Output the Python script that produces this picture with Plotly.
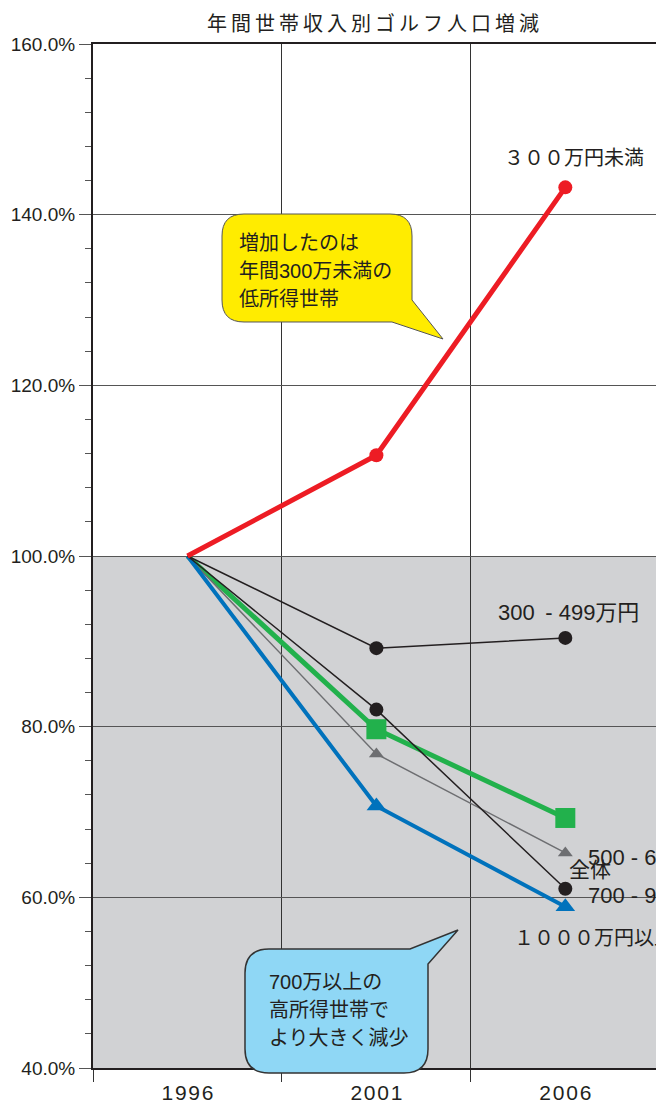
import plotly.graph_objects as go

# Survey years and index values (1996 = 100%)
years = ["1996", "2001", "2006"]
under_300 = [100.0, 111.8, 143.2]
band_300_499 = [100.0, 89.2, 90.4]
band_500_699 = [100.0, 76.8, 65.2]
band_700_999 = [100.0, 82.0, 61.0]
over_1000 = [100.0, 70.7, 58.9]
overall = [100.0, 79.7, 69.3]

series_names = ["３００万円未満", "300 - 499万円", "500 - 699万円",
                "700 - 999万円", "１０００万円以上", "全体"]
title_text = "年間世帯収入別ゴルフ人口増減"
y_range = [40, 160]
shade_range = [40, 100]

W, H = 656, 1106
ML, MR, MT, MB = 93, 0, 44, 38
PW, PH = W - ML - MR, H - MT - MB

FONT = "Liberation Sans, Noto Sans CJK JP, sans-serif"
TXT = "#231f20"
THIN = "\u2009"
HAIR = "\u200a"


def spaced(text, sep=THIN):
    """Open up the tracking of a label with narrow spaces."""
    return sep.join(text)


def px(x):
    return (x - ML) / PW


def py(y):
    return (H - MB - y) / PH


def path(points):
    """Build an SVG path in paper units from pixel-space commands."""
    out = []
    for cmd, *pts in points:
        coords = [f"{px(x):.5f},{py(y):.5f}" for (x, y) in pts]
        out.append(cmd + " ".join(coords))
    return " ".join(out) + " Z"


fig = go.Figure()

# grey band below the 100% baseline
fig.add_shape(type="rect", xref="x", yref="y", x0=-0.5, x1=2.6,
              y0=shade_range[0], y1=shade_range[1],
              fillcolor="#d1d2d4", line_width=0, layer="below")


def line_trace(values, color, width, symbol, size):
    return go.Scatter(
        x=years, y=values, mode="lines+markers", opacity=1,
        line=dict(color=color, width=width),
        marker=dict(symbol=symbol, size=[0, size, size], color=color,
                    opacity=1, line=dict(width=0)),
        hoverinfo="skip", showlegend=False, cliponaxis=False)


fig.add_trace(line_trace(overall, "#22b14c", 5, "square", 20))
fig.add_trace(line_trace(band_500_699, "#6d6e71", 1.5, "triangle-up", 13))
fig.add_trace(line_trace(over_1000, "#0072bc", 4, "triangle-up", 17))
fig.add_trace(line_trace(band_300_499, TXT, 1.5, "circle", 14))
fig.add_trace(line_trace(band_700_999, TXT, 1.5, "circle", 14))
fig.add_trace(line_trace(under_300, "#ed1c24", 5, "circle", 14))

# speech bubbles
yellow = [("M", (244, 214)), ("L", (390, 214)), ("Q", (412, 214), (412, 236)),
          ("L", (412, 300)), ("L", (443, 339)), ("L", (392, 322)),
          ("L", (244, 322)), ("Q", (222, 322), (222, 300)),
          ("L", (222, 236)), ("Q", (222, 214), (244, 214))]
fig.add_shape(type="path", xref="paper", yref="paper", path=path(yellow),
              fillcolor="#ffec00", line=dict(color="#555555", width=1),
              layer="above")

blue = [("M", (269, 949)), ("L", (410, 949)), ("L", (458, 930)),
        ("L", (428, 964)), ("L", (428, 1049)), ("Q", (428, 1073), (404, 1073)),
        ("L", (269, 1073)), ("Q", (245, 1073), (245, 1049)),
        ("L", (245, 973)), ("Q", (245, 949), (269, 949))]
fig.add_shape(type="path", xref="paper", yref="paper", path=path(blue),
              fillcolor="#8fd7f5", line=dict(color="#333333", width=1.5),
              layer="above")


def note(text, x, y, size=20, anchor="left"):
    fig.add_annotation(text=text, xref="paper", yref="paper",
                       x=px(x), y=py(y), xanchor=anchor, yanchor="middle",
                       showarrow=False,
                       font=dict(family=FONT, size=size, color=TXT))


for i, line in enumerate(["増加したのは", "年間300万未満の", "低所得世帯"]):
    note(line, 237, 243 + 28 * i)
for i, line in enumerate(["700万以上の", "高所得世帯で", "より大きく減少"]):
    note(line, 267, 982 + 28 * i)

# series labels
note(series_names[0], 502, 158, 20)
note(series_names[1].replace("300 ", "300" + THIN + " "), 496, 612, 22)
note(series_names[2], 586, 857, 22)
note(series_names[3], 586, 895, 22)
note(series_names[5], 567, 869, 21)
note(series_names[4], 512, 938, 20)

# chart title
note(spaced(title_text), 205, 24, 20)

fig.update_layout(
    width=W, height=H,
    margin=dict(l=ML, r=MR, t=MT, b=MB, pad=0, autoexpand=False),
    paper_bgcolor="white", plot_bgcolor="white",
    font=dict(family=FONT, color=TXT),
    xaxis=dict(type="category", range=[-0.5, 2.48], tickson="boundaries",
               tickmode="array", tickvals=years,
               ticktext=[spaced(y, HAIR) for y in years],
               ticks="outside", ticklen=12, tickcolor="#333333", tickwidth=1,
               ticklabelstandoff=5, automargin=False,
               showgrid=True, gridcolor="#333333", gridwidth=1,
               showline=True, linecolor="#231f20", linewidth=2, mirror=True,
               tickfont=dict(size=21, color=TXT), zeroline=False),
    yaxis=dict(range=y_range, dtick=20, tick0=40, ticksuffix="%",
               tickformat=".1f", ticks="outside", ticklen=12,
               tickcolor="#555555", showgrid=True, gridcolor="#555555",
               gridwidth=1, showline=True, linecolor="#231f20", linewidth=2,
               zeroline=False, tickfont=dict(size=19, color=TXT),
               automargin=False,
               minor=dict(dtick=4, tick0=40, ticks="outside", ticklen=6,
                          tickcolor="#555555", showgrid=False)),
)

fig.write_html("out.html")
